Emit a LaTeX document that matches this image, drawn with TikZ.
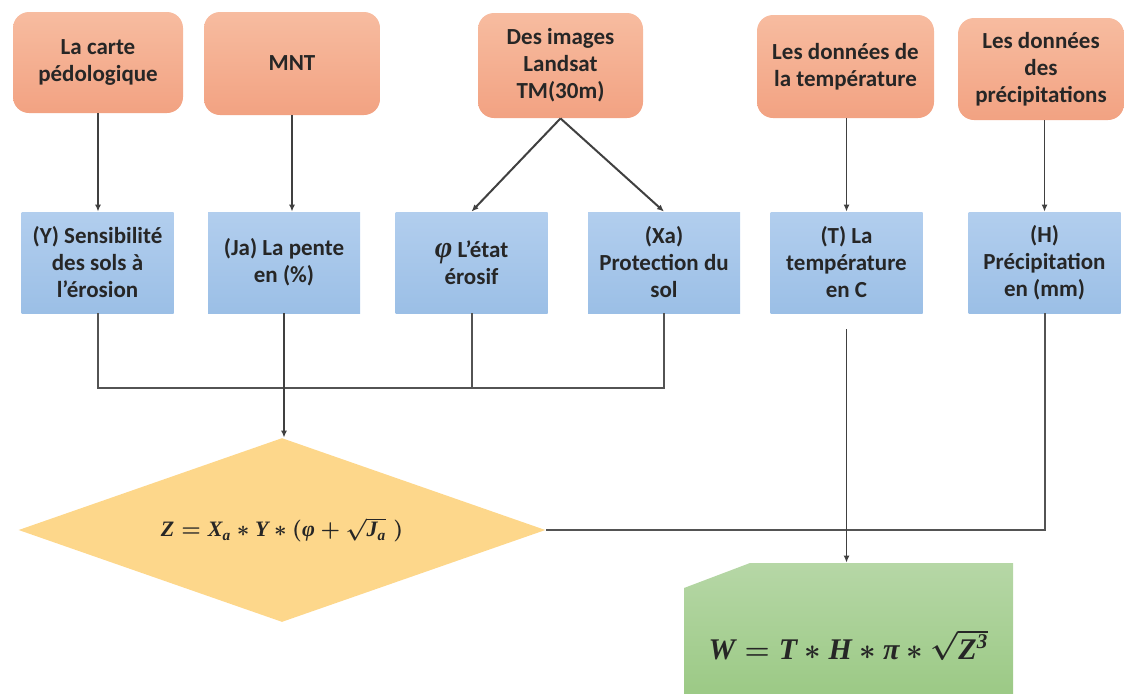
\documentclass[tikz,border=0pt]{standalone}
\usepackage{amsmath}
\usepackage{fontspec}
\setmainfont{Carlito}
\newfontfamily\greekfont{Liberation Serif}
\newcommand{\tbi}[1]{\text{\greekfont\bfseries\itshape #1}}
\usetikzlibrary{arrows.meta,shapes.geometric}

\definecolor{orangetop}{HTML}{F7BCA0}
\definecolor{orangebot}{HTML}{F2A282}
\definecolor{bluetop}{HTML}{B2CEEE}
\definecolor{bluebot}{HTML}{9BBFE6}
\definecolor{diamfill}{HTML}{FDD78B}
\definecolor{greentop}{HTML}{B6D7A6}
\definecolor{greenbot}{HTML}{95C67D}
\definecolor{linegray}{HTML}{404040}
\definecolor{txt}{HTML}{262626}

\begin{document}
\begin{tikzpicture}[x=0.5pt,y=-0.5pt,
	databox/.style={rectangle, rounded corners=8pt, top color=orangetop, bottom color=orangebot,
		text=txt, font=\bfseries\fontsize{11.5}{13.5}\selectfont, align=center, inner sep=0pt},
	parambox/.style={rectangle, top color=bluetop, bottom color=bluebot, minimum width=76pt,
		minimum height=50.5pt, text=txt, font=\bfseries\fontsize{11.5}{13.5}\selectfont,
		align=center, inner sep=0pt},
	arr/.style={draw=linegray, line width=0.75pt, -{Latex[length=3.5pt,width=3pt]}},
	link/.style={draw=linegray!90, line width=1pt},
	diag/.style={draw=linegray, line width=1pt, -{Latex[length=3.5pt,width=3pt]}}]
	\useasboundingbox (0,0) rectangle (1124,693);
	% donnees de depart
	\node[databox, minimum width=85pt, minimum height=50.5pt] (carte) at (98,62.5) {La carte\\pédologique};
	\node[databox, minimum width=88pt, minimum height=51.5pt] (mnt) at (292,63.5) {MNT};
	\node[databox, minimum width=82.5pt, minimum height=52.5pt] (landsat) at (560.5,65.5) {Des images\\Landsat\\TM(30m)};
	\node[databox, minimum width=88.5pt, minimum height=51.5pt] (tdata) at (845.5,66.5) {Les données de\\la température};
	\node[databox, minimum width=83pt, minimum height=51pt] (pdata) at (1041,69) {Les données\\des\\précipitations};
	% parametres
	\node[parambox] (Y) at (97.5,262.5) {(Y) Sensibilité\\des sols à\\l'érosion};
	\node[parambox] (Ja) at (284,262.5) {(Ja) La pente\\en (\%)};
	\node[parambox] (phi) at (471.5,262.5) {{\greekfont\bfseries\itshape\fontsize{15}{13.5}\selectfont φ} L'état\\érosif};
	\node[parambox] (Xa) at (664,262.5) {(Xa)\\Protection du\\sol};
	\node[parambox] (T) at (846.5,262.5) {(T) La\\température\\en C};
	\node[parambox] (H) at (1044.5,262.5) {(H)\\Précipitation\\en (mm)};
	% formules
	\node[diamond, fill=diamfill, aspect=2.86, minimum width=263.5pt, minimum height=92pt,
		inner sep=0pt, text=txt, font=\fontsize{11}{13}\selectfont\boldmath] (Z) at (282,530)
		{$\tbi{Z} = \tbi{X}_{\tbi{a}} \ast \tbi{Y} \ast (\tbi{φ} + \sqrt{\tbi{J}_{\tbi{a}}}\;)$};
	\node[rectangle, minimum width=164.5pt, minimum height=82pt, inner sep=0pt, text=txt,
		font=\fontsize{15}{17}\selectfont\boldmath,
		path picture={\shade[top color=greentop, bottom color=greenbot]
			([yshift=-12.5pt]path picture bounding box.north west)
			-- ([xshift=33pt]path picture bounding box.north west)
			-- (path picture bounding box.north east)
			-- (path picture bounding box.south east)
			-- (path picture bounding box.south west) -- cycle;}] (W) at (848.5,645)
		{$\tbi{W} = \tbi{T} \ast \tbi{H} \ast \tbi{π} \ast \sqrt{\tbi{Z}^{\tbi{3}}}$};
	\coordinate (bus) at (98,388);
	% fleches
	\draw[arr] (carte.south) -- (carte.south |- Y.north);
	\draw[arr] (mnt.south) -- (mnt.south |- Ja.north);
	\draw[diag] (landsat.south) -- (phi.north);
	\draw[diag] (landsat.south) -- (Xa.north);
	\draw[arr] (T.north |- tdata.south) -- (T.north);
	\draw[arr] (H.north |- pdata.south) -- (H.north);
	\draw[link] (Y.south) -- (Y.south |- bus) -- (Xa.south |- bus) -- (Xa.south);
	\draw[link] (phi.south) -- (phi.south |- bus);
	\draw[arr] (Ja.south) -- (Ja.south |- Z.north);
	\draw[link] (H.south) |- (Z.east);
	\draw[arr] ([yshift=-8pt]T.south) -- (T.south |- W.north);
\end{tikzpicture}
\end{document}
